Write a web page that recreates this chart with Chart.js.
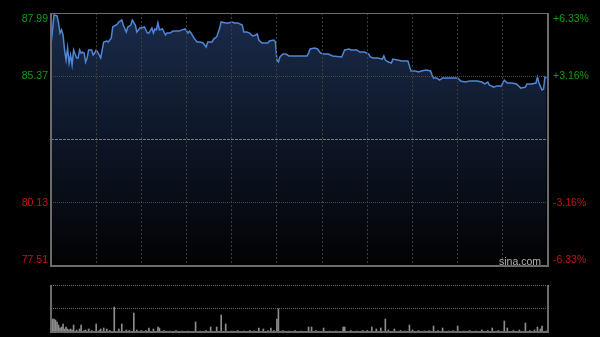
<!DOCTYPE html>
<html lang="zh">
<head>
<meta charset="UTF-8">
<title>Intraday</title>
<script src="https://cdn.jsdelivr.net/npm/chart.js"></script>
<style>
    body { margin: 0; background: #000; }
    .wrap { position: relative; width: 600px; height: 337px; background: #000; }
    .wrap canvas { position: absolute; left: 0; top: 0; }
    .marca {
        position: absolute; left: 499px; top: 255px;
        font: 10.5px Arial, "Liberation Sans", sans-serif;
        color: #b4b4b4; text-shadow: 0 0 1px #000, 0 0 1px #000;
    }
</style>
</head>
<body>
<div class="wrap">
    <canvas id="chart-price" width="600" height="337"></canvas>
    <canvas id="chart-volume" width="600" height="337"></canvas>
    <div class="marca">sina.com</div>
</div>

<script>
    // minutes since open (HK session, 330 min) and price
    var minutes = [
        0, 2, 4, 5, 6, 7, 8, 9, 10, 11,
        12, 13, 14, 15, 17, 18, 19, 20, 21, 22,
        23, 24, 25, 27, 28, 29, 30, 31, 33, 34,
        35, 37, 38, 40, 41, 43, 44, 45, 47, 48,
        50, 51, 53, 54, 56, 57, 59, 60, 62, 64,
        65, 67, 68, 69, 70, 71, 72, 74, 76, 77,
        79, 81, 85, 87, 89, 91, 92, 93, 95, 97,
        99, 101, 103, 104, 107, 108, 110, 112, 113, 116,
        118, 120, 122, 124, 127, 128, 130, 132, 133, 134,
        136, 137, 138, 140, 144, 145, 148, 149, 150, 151,
        152, 154, 156, 158, 170, 171, 172, 175, 177, 179,
        181, 184, 187, 193, 195, 198, 199, 203, 205, 208,
        211, 212, 214, 217, 220, 221, 222, 224, 226, 227,
        230, 233, 237, 238, 239, 242, 244, 246, 249, 252,
        253, 254, 256, 258, 260, 264, 268, 270, 272, 275,
        278, 283, 286, 288, 290, 291, 294, 296, 299, 301,
        303, 306, 309, 312, 315, 316, 319, 322, 323, 324,
        326, 327, 328, 329
    ];
    var prices = [
        86.66, 87.91, 87.87, 87.58, 87.16, 87.29, 87.08, 86.46, 86.04, 86.54,
        85.92, 86.25, 85.84, 86.46, 86.13, 86.13, 86.46, 86.33, 86.37, 86.33,
        85.96, 86.13, 86.46, 86.46, 86.25, 86.33, 86.46, 86.37, 86.13, 86.46,
        86.79, 86.83, 86.79, 86.95, 87.41, 87.49, 87.53, 87.62, 87.70, 87.49,
        87.20, 87.41, 87.49, 87.70, 87.49, 87.20, 87.37, 87.37, 87.41, 87.16,
        87.16, 87.37, 87.16, 87.33, 87.29, 87.58, 87.29, 87.33, 87.08, 87.16,
        87.16, 87.24, 87.24, 87.29, 87.33, 87.16, 87.24, 87.16, 86.95, 86.79,
        86.79, 86.75, 86.58, 86.79, 86.79, 86.91, 87.00, 87.37, 87.62, 87.58,
        87.58, 87.62, 87.58, 87.58, 87.49, 87.20, 87.20, 87.16, 87.08, 87.04,
        87.08, 87.12, 86.87, 86.75, 86.75, 86.83, 86.87, 86.79, 86.04, 85.96,
        86.17, 86.29, 86.29, 86.21, 86.21, 86.33, 86.50, 86.54, 86.50, 86.33,
        86.29, 86.29, 86.21, 86.17, 86.46, 86.50, 86.46, 86.46, 86.37, 86.37,
        86.29, 86.17, 86.13, 86.13, 86.08, 86.21, 86.04, 85.96, 85.92, 86.08,
        86.04, 86.00, 86.00, 85.79, 85.59, 85.59, 85.55, 85.59, 85.63, 85.59,
        85.42, 85.30, 85.30, 85.21, 85.30, 85.30, 85.30, 85.30, 85.17, 85.13,
        85.17, 85.17, 85.13, 85.05, 85.13, 85.01, 84.92, 84.97, 84.97, 85.21,
        85.09, 85.09, 85.05, 84.88, 84.92, 85.05, 85.05, 85.09, 85.34, 85.09,
        84.80, 84.84, 85.34, 85.30
    ];

    var volMinutes = [
        0, 1, 2, 3, 4, 5, 6, 7, 8, 9, 10, 11, 12, 13, 14, 15, 17, 19, 20, 22,
        23, 25, 27, 30, 32, 33, 35, 37, 39, 42, 45, 47, 50, 52, 55, 57, 60, 63, 65, 68,
        71, 72, 75, 79, 83, 87, 91, 96, 99, 103, 106, 110, 113, 116, 120, 124, 128, 132, 135, 138,
        141, 144, 146, 148, 150, 151, 154, 158, 162, 166, 171, 173, 176, 181, 185, 189, 194, 195, 199, 203,
        207, 210, 213, 216, 219, 222, 224, 228, 232, 235, 238, 240, 244, 248, 251, 254, 257, 260, 264, 267,
        270, 274, 278, 282, 286, 290, 293, 297, 301, 303, 307, 311, 315, 318, 321, 323, 325, 326, 329
    ];
    var volumes = [
        350, 130, 130, 120, 100, 70, 40, 50, 80, 30, 50, 30, 20, 30, 20, 70, 20, 30, 70, 15,
        20, 30, 15, 80, 15, 30, 40, 30, 15, 250, 30, 80, 20, 15, 190, 20, 15, 15, 40, 30,
        50, 40, 15, 10, 15, 10, 10, 100, 10, 15, 50, 50, 170, 80, 10, 15, 10, 15, 10, 40,
        30, 15, 40, 15, 130, 230, 15, 10, 15, 10, 50, 50, 15, 40, 10, 10, 50, 50, 15, 10,
        15, 15, 50, 30, 40, 130, 20, 30, 15, 10, 70, 20, 15, 10, 15, 60, 15, 40, 10, 15,
        60, 10, 15, 10, 20, 15, 40, 15, 110, 40, 15, 20, 90, 15, 20, 50, 30, 60, 10
    ];

    // axis ticks
    var priceTicks = [77.51, 80.13, 82.75, 85.37, 87.99];
    var priceLabels = ['77.51', '80.13', '', '85.37', '87.99'];
    var pctLabels = ['-6.33%', '-3.16%', '', '+3.16%', '+6.33%'];
    var volTicks = [0, 235, 470];

    var GREEN = '#139a13';
    var RED = '#c81414';
    var FONT = { family: 'Arial, "Liberation Sans", sans-serif', size: 10.5 };

    // labels at the top/bottom edge sit inside the frame
    function edgeLabel(text, index) {
        if (index === 0) return [text, ''];
        if (index === priceTicks.length - 1) return ['', text];
        return text;
    }

    // frame round the plot area
    var frame = {
        id: 'frame',
        afterDraw: function (chart, args, opts) {
            var a = chart.chartArea;
            var c = chart.ctx;
            c.save();
            c.strokeStyle = opts.color || '#6b6b6b';
            c.lineWidth = 2;
            c.beginPath();
            c.moveTo(a.left, a.top);
            c.lineTo(a.left, a.bottom);
            c.lineTo(a.right, a.bottom);
            c.lineTo(a.right, a.top);
            c.stroke();
            if (opts.top) {
                c.lineWidth = 1;
                c.beginPath();
                c.moveTo(a.left, a.top + 0.5);
                c.lineTo(a.right, a.top + 0.5);
                c.stroke();
            }
            c.restore();
        }
    };

    function fillGradient(context) {
        var chart = context.chart;
        var area = chart.chartArea;
        if (!area) return null;
        var g = chart.ctx.createLinearGradient(0, area.top, 0, area.bottom);
        g.addColorStop(0, '#1a2b4a');
        g.addColorStop(0.5, '#0d1627');
        g.addColorStop(1, '#020203');
        return g;
    }

    var pricePoints = [];
    for (var i = 0; i < minutes.length; i++) {
        pricePoints.push({ x: minutes[i], y: prices[i] });
    }

    var configPrice = {
        type: 'line',
        data: {
            datasets: [{
                data: pricePoints,
                yAxisID: 'y',
                borderColor: '#4f86d8',
                borderWidth: 1.5,
                pointRadius: 0,
                tension: 0,
                fill: 'start',
                backgroundColor: fillGradient
            }]
        },
        options: {
            responsive: false,
            animation: false,
            devicePixelRatio: 1,
            layout: { padding: { top: 13, bottom: 71, left: 0, right: 0 } },
            plugins: {
                legend: { display: false },
                tooltip: { enabled: false },
                frame: { top: true, color: '#6b6b6b' }
            },
            scales: {
                x: {
                    type: 'linear',
                    min: 0,
                    max: 330,
                    ticks: { display: false, stepSize: 30 },
                    grid: {
                        z: 1,
                        drawTicks: false,
                        color: function (ctx) {
                            var v = ctx.tick ? ctx.tick.value : 0;
                            return (v <= 0 || v >= 330) ? 'rgba(0,0,0,0)' : '#3e3e3e';
                        }
                    },
                    border: { display: false, dash: [2, 2] },
                    afterFit: function (s) { s.height = 0; s.paddingLeft = 0; s.paddingRight = 0; }
                },
                y: {
                    position: 'left',
                    min: 77.51,
                    max: 87.99,
                    afterBuildTicks: function (s) {
                        s.ticks = priceTicks.map(function (v) { return { value: v }; });
                    },
                    ticks: {
                        padding: 3,
                        font: FONT,
                        color: function (ctx) { return ctx.index >= 2 ? GREEN : RED; },
                        callback: function (v, index) { return edgeLabel(priceLabels[index], index); }
                    },
                    grid: {
                        z: 1,
                        drawTicks: false,
                        color: function (ctx) {
                            if (ctx.index === 0 || ctx.index === 4) return 'rgba(0,0,0,0)';
                            return ctx.index === 2 ? '#7a7a7a' : '#4a4a4a';
                        }
                    },
                    border: {
                        display: false,
                        dash: function (ctx) { return ctx.index === 2 ? [3, 1] : [1, 1]; }
                    },
                    afterFit: function (s) { s.width = 51; s.paddingTop = 0; s.paddingBottom = 0; }
                },
                y2: {
                    position: 'right',
                    min: 77.51,
                    max: 87.99,
                    afterBuildTicks: function (s) {
                        s.ticks = priceTicks.map(function (v) { return { value: v }; });
                    },
                    ticks: {
                        padding: 5,
                        font: FONT,
                        color: function (ctx) { return ctx.index >= 2 ? GREEN : RED; },
                        callback: function (v, index) { return edgeLabel(pctLabels[index], index); }
                    },
                    grid: { display: false, drawTicks: false },
                    border: { display: false },
                    afterFit: function (s) { s.width = 52; s.paddingTop = 0; s.paddingBottom = 0; }
                }
            }
        },
        plugins: [frame]
    };

    var volPoints = [];
    for (var j = 0; j < volMinutes.length; j++) {
        volPoints.push({ x: volMinutes[j], y: volumes[j] });
    }

    var configVolume = {
        type: 'bar',
        data: {
            datasets: [{
                data: volPoints,
                backgroundColor: '#8c8c8c',
                barThickness: 1
            }]
        },
        options: {
            responsive: false,
            animation: false,
            devicePixelRatio: 1,
            layout: { padding: { top: 285, bottom: 5, left: 0, right: 52 } },
            plugins: {
                legend: { display: false },
                tooltip: { enabled: false },
                frame: { top: false, color: '#6b6b6b' }
            },
            scales: {
                x: {
                    type: 'linear',
                    min: 0,
                    max: 330,
                    offset: false,
                    ticks: { display: false },
                    grid: { display: false, drawTicks: false },
                    border: { display: false },
                    afterFit: function (s) { s.height = 0; s.paddingLeft = 0; s.paddingRight = 0; }
                },
                y: {
                    min: 0,
                    max: 470,
                    afterBuildTicks: function (s) {
                        s.ticks = volTicks.map(function (v) { return { value: v }; });
                    },
                    ticks: { display: false },
                    grid: {
                        drawTicks: false,
                        color: function (ctx) { return ctx.index === 0 ? 'rgba(0,0,0,0)' : '#6a6a6a'; }
                    },
                    border: { display: false, dash: [1, 1] },
                    afterFit: function (s) { s.width = 51; s.paddingTop = 0; s.paddingBottom = 0; }
                }
            }
        },
        plugins: [frame]
    };

    new Chart(document.getElementById('chart-price').getContext('2d'), configPrice);
    new Chart(document.getElementById('chart-volume').getContext('2d'), configVolume);
</script>
</body>
</html>
